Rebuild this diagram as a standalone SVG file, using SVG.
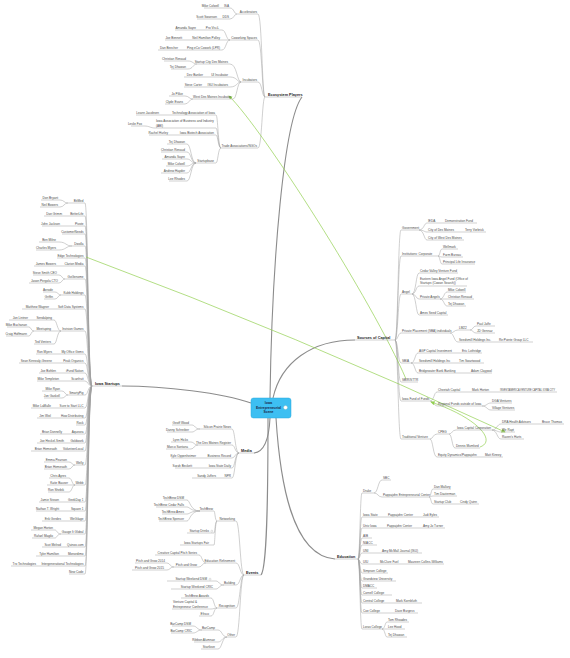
<svg xmlns="http://www.w3.org/2000/svg" width="570" height="658" viewBox="0 0 570 658">
<defs>
<style>
text{font-family:"Liberation Sans",Arial,sans-serif;font-size:3.1px;fill:#4a4a4a}
.e{text-anchor:end}
.b{font-weight:bold;font-size:3.8px;fill:#222}
.u{stroke:#a0a0a0;stroke-width:.5;fill:none}
.c{stroke:#a0a0a0;stroke-width:.5;fill:none}
.m{stroke:#8c8c8c;stroke-width:1.1;fill:none}
.g{stroke:#92d050;stroke-width:.7;fill:none;marker-end:url(#ga)}
.ct{font-weight:bold;font-size:3.4px;fill:#1b2a4a;text-anchor:middle}
</style>
<marker id="ga" viewBox="0 0 6 6" refX="5" refY="3" markerWidth="6" markerHeight="6" orient="auto"><path d="M0 0L6 3L0 6z" fill="#92d050"/></marker>
</defs>
<rect width="570" height="658" fill="#fff"/>

<g id="connectors">
<!-- main -->
<path class="m" d="M270 398C272 260 284 120 302 97"/>
<path class="m" d="M273 398C281 362 312 340 355 340"/>
<path class="m" d="M251 403C222 393 165 386 122 386"/>
<path class="m" d="M254 453C264 452 269 440 270 418"/>
<path class="m" d="M268 418C268 500 267 568 261 575"/>
<path class="m" d="M276 418C280 482 292 556 335 559"/>
<!-- ecosystem -->
<path class="c" d="M265 97C262 97 262 14 258 14M265 97C262 97 262 40 258 40M265 97C262 97 262 82 258 82M265 97C262 97 262 148 258 148"/>
<path class="c" d="M237 14C234 14 234 8 230 8M237 14C234 14 234 19 230 19"/>
<path class="c" d="M230 40C226 40 226 30 222 30M230 40H222M230 40C226 40 226 50 222 50"/>
<path class="c" d="M241 82C237 82 237 64 230 64M241 82C237 82 237 77 230 77M241 82C237 82 237 87 230 87M241 82C237 82 237 99 233 99"/>
<path class="c" d="M197 64C193 64 193 61 188 61M197 64C193 64 193 69 188 69"/>
<path class="c" d="M193 99C189 99 189 96 185 96M193 99C189 99 189 104 185 104"/>
<path class="c" d="M221 148C218 148 218 115 216 115M221 148C218 148 218 128 216 128M221 148C218 148 218 135 216 135M221 148C218 148 218 163 216 163"/>
<path class="c" d="M155 128C150 128 150 126 144 126"/>
<path class="c" d="M196 163C191 163 191 144 187 144M196 163C191 163 191 152 187 152M196 163C191 163 191 159 187 159M196 163C191 163 191 166 187 166M196 163C191 163 191 173 187 173M196 163C191 163 191 181 187 181"/>
<!-- sources -->
<path class="c" d="M395 340C398 340 398 230 401 230M395 340C398 340 398 256 401 256M395 340C398 340 398 294 401 294M395 340C398 340 398 333 401 333M395 340C398 340 398 363 401 363M395 340C398 340 398 382 401 382M395 340C398 340 398 401 401 401M395 340C398 340 398 439 401 439"/>
<path class="c" d="M419 230C424 230 424 223 427 223M419 230C424 230 424 232 427 232M419 230C424 230 424 240 427 240"/>
<path class="c" d="M438 256C440 256 440 249 442 249M438 256C440 256 440 257 442 257M438 256C440 256 440 264 442 264"/>
<path class="c" d="M412 294C416 294 416 273 419 273M412 294C416 294 416 286 419 286M412 294C416 294 416 299 419 299M412 294C416 294 416 315 419 315"/>
<path class="c" d="M440 299C444 299 444 292 447 292M440 299H447M440 299C444 299 444 306 447 306"/>
<path class="c" d="M450 333C454 333 454 330 458 330M450 333C454 333 454 342 458 342"/>
<path class="c" d="M470 330C473 330 473 326 476 326M470 330C473 330 473 333 476 333"/>
<path class="c" d="M411 363C415 363 415 353 418 353M411 363H418M411 363C415 363 415 373 418 373"/>
<path class="c" d="M430 401C434 401 434 392 437 392M430 401C434 401 434 406 437 406"/>
<path class="c" d="M482 406C487 406 487 403 491 403M482 406C487 406 487 410 491 410"/>
<path class="c" d="M430 439C433 439 433 434 437 434M430 439C433 439 433 457 437 457"/>
<path class="c" d="M449 434C452 434 452 430 456 430M449 434C452 434 452 448 455 448"/>
<path class="c" d="M492 430C497 430 497 424 501 424M492 430C497 430 497 432 501 432M492 430C497 430 497 439 501 439"/>
<!-- startups -->
<path class="c" d="M92 386C88 386 88 203 85 203M92 386C88 386 88 216 85 216M92 386C88 386 88 226 85 226M92 386C88 386 88 234 85 234M92 386C88 386 88 246 85 246M92 386C88 386 88 258 85 258M92 386C88 386 88 266 85 266M92 386C88 386 88 279 85 279M92 386C88 386 88 295 85 295M92 386C88 386 88 309 85 309M92 386C88 386 88 331 85 331M92 386C88 386 88 354 85 354M92 386C88 386 88 363 85 363M92 386C88 386 88 373 85 373M92 386C88 386 88 381 85 381M92 386C88 386 88 395 85 395M92 386C88 386 88 408 85 408M92 386C88 386 88 418 85 418M92 386C88 386 88 425 85 425M92 386C88 386 88 434 85 434M92 386C88 386 88 443 85 443M92 386C88 386 88 451 85 451M92 386C88 386 88 465 85 465M92 386C88 386 88 485 85 485M92 386C88 386 88 502 85 502M92 386C88 386 88 511 85 511M92 386C88 386 88 521 85 521M92 386C88 386 88 534 85 534M92 386C88 386 88 547 85 547M92 386C88 386 88 556 85 556M92 386C88 386 88 566 85 566M92 386C88 386 88 574 85 574"/>
<path class="c" d="M68 203C64 203 64 200 60 200M68 203C64 203 64 207 60 207"/>
<path class="c" d="M72 246C66 246 66 242 59 242M72 246C66 246 66 250 59 250"/>
<path class="c" d="M65 279C62 279 62 275 59 275M65 279C62 279 62 283 59 283"/>
<path class="c" d="M61 295C58 295 58 292 55 292M61 295C58 295 58 299 55 299"/>
<path class="c" d="M61 331C57 331 57 320 54 320M61 331H54M61 331C57 331 57 344 54 344"/>
<path class="c" d="M34 331C31 331 31 327 29 327M34 331C31 331 31 336 29 336"/>
<path class="c" d="M68 395C65 395 65 391 62 391M68 395C65 395 65 398 62 398"/>
<path class="c" d="M75 465C72 465 72 462 69 462M75 465C72 465 72 469 69 469"/>
<path class="c" d="M75 485C72 485 72 478 69 478M75 485H69M75 485C72 485 72 492 69 492"/>
<path class="c" d="M61 534C57 534 57 530 55 530M61 534C57 534 57 538 55 538"/>
<!-- media -->
<path class="c" d="M239 453C235 453 235 429 232 429M239 453C235 453 235 445 232 445M239 453C235 453 235 458 232 458M239 453C235 453 235 468 232 468M239 453C235 453 235 478 232 478"/>
<path class="c" d="M200 429C195 429 195 425 192 425M200 429C195 429 195 432 192 432"/>
<path class="c" d="M198 445C194 445 194 442 191 442M198 445C194 445 194 449 191 449"/>
<!-- events -->
<path class="c" d="M244 575C240 575 240 521 236 521M244 575C240 575 240 563 236 563M244 575C240 575 240 585 236 585M244 575C240 575 240 608 236 608M244 575C240 575 240 637 236 637"/>
<path class="c" d="M217 521C215 521 215 511 214 511M217 521C215 521 215 533 214 533M217 521C215 521 215 545 214 545"/>
<path class="c" d="M200 511C190 511 190 500 187 500M200 511C190 511 190 507 187 507M200 511C190 511 190 514 187 514M200 511C190 511 190 521 187 521"/>
<path class="c" d="M206 563C202 563 202 555 199 555M206 563C202 563 202 567 199 567"/>
<path class="c" d="M174 567C170 567 170 563 167 563M174 567C170 567 170 570 167 570"/>
<path class="c" d="M224 585C219 585 219 581 216 581M224 585C219 585 219 589 216 589"/>
<path class="c" d="M217 608C214 608 214 598 211 598M217 608C214 608 214 609 211 609M217 608C214 608 214 616 211 616"/>
<path class="c" d="M227 637C222 637 222 630 218 630M227 637C222 637 222 642 218 642M227 637C222 637 222 649 218 649"/>
<path class="c" d="M202 630C197 630 197 626 193 626M202 630C197 630 197 633 193 633"/>
<!-- education -->
<path class="c" d="M358 559C360 559 360 493 362 493M358 559C360 559 360 517 362 517M358 559C360 559 360 528 362 528M358 559C360 559 360 538 362 538M358 559C360 559 360 545 362 545M358 559C360 559 360 553 362 553M358 559C360 559 360 564 362 564M358 559C360 559 360 573 362 573M358 559C360 559 360 581 362 581M358 559C360 559 360 588 362 588M358 559C360 559 360 595 362 595M358 559C360 559 360 603 362 603M358 559C360 559 360 613 362 613M358 559C360 559 360 629 362 629"/>
<path class="c" d="M374 493C378 493 378 480 382 480M374 493C378 493 378 497 382 497"/>
<path class="c" d="M429 497C431 497 431 489 433 489M429 497C431 497 431 496 433 496M429 497C431 497 431 504 433 504"/>
<path class="c" d="M382 629C385 629 385 622 387 622M382 629H387M382 629C385 629 385 637 387 637"/>
<!-- green links -->
<path class="g" d="M406 379C372 300 262 128 229 96"/>
<path class="g" d="M86 257Q296 335 505 432"/>
<path class="g" d="M480 447C497 441 478 418 431 402"/>
</g>

<!-- ===== Ecosystem Players ===== -->
<g id="n-ecosystem"><text class="b" x="268" y="95.8">Ecosystem Players</text><path class="u" d="M265 97H302"/></g>
<g id="n-accelerators"><text class="e" x="257" y="13.1">Accelerators</text><path class="u" d="M237 14H258"/></g>
<g id="n-isa"><text class="e" x="229" y="7.1">ISA</text><path class="u" d="M221 8H230"/></g>
<g id="n-isa-1"><text class="e" x="219" y="7.1">Mike Colwell</text><path class="u" d="M204 8H221"/></g>
<g id="n-dds"><text class="e" x="229" y="18.1">DDS</text><path class="u" d="M221 19H230"/></g>
<g id="n-dds-1"><text class="e" x="217" y="18.1">Scott Swanson</text><path class="u" d="M197 19H221"/></g>
<g id="n-coworking"><text class="e" x="257" y="39.1">Coworking Spaces</text><path class="u" d="M230 40H258"/></g>
<g id="n-cw1"><text class="e" x="219" y="29.1">Pro Vis.iL</text><path class="u" d="M206 30H222"/></g>
<g id="n-cw1-1"><text class="e" x="196" y="29.1">Amanda Sayre</text><path class="u" d="M175 30H206"/></g>
<g id="n-cw2"><text class="e" x="220" y="39.1">Neil Hamilton Polley</text><path class="u" d="M191 40H222"/></g>
<g id="n-cw2-1"><text class="e" x="182" y="39.1">Joe Bennett</text><path class="u" d="M165 40H191"/></g>
<g id="n-cw3"><text class="e" x="220" y="49.1">Ping eCo Cowork (LPR)</text><path class="u" d="M186 50H222"/></g>
<g id="n-cw3-1"><text class="e" x="178" y="49.1">Dan Beecher</text><path class="u" d="M158 50H186"/></g>
<g id="n-incubators"><text class="e" x="257" y="81.1">Incubators</text><path class="u" d="M241 82H258"/></g>
<g id="n-inc1"><text class="e" x="228" y="63.1">Startup City Des Moines</text><path class="u" d="M197 64H230"/></g>
<g id="n-inc1-1"><text class="e" x="186" y="60.1">Christian Renaud</text><path class="u" d="M164 61H188"/></g>
<g id="n-inc1-2"><text class="e" x="186" y="68.1">Tej Dhawan</text><path class="u" d="M171 69H188"/></g>
<g id="n-inc2"><text class="e" x="228" y="76.1">UI Incubator</text><path class="u" d="M211 77H230"/></g>
<g id="n-inc2-1"><text class="e" x="203" y="76.1">Dev Banker</text><path class="u" d="M184 77H211"/></g>
<g id="n-inc3"><text class="e" x="228" y="86.1">ISU Incubators</text><path class="u" d="M208 87H230"/></g>
<g id="n-inc3-1"><text class="e" x="202" y="86.1">Steve Carter</text><path class="u" d="M184 87H208"/></g>
<g id="n-inc4"><text class="e" x="231" y="98.1">West Des Moines Incubator</text><path class="u" d="M193 99H233"/></g>
<g id="n-inc4-1"><text class="e" x="183" y="95.1">Jo Pilkie</text><path class="u" d="M169 96H185"/></g>
<g id="n-inc4-2"><text class="e" x="183" y="103.1">Clyde Evans</text><path class="u" d="M165 104H185"/></g>
<g id="n-trade"><text class="e" x="257" y="147.1">Trade Associations/NGOs</text><path class="u" d="M221 148H258"/></g>
<g id="n-tr1"><text class="e" x="215" y="114.1">Technology Association of Iowa</text><path class="u" d="M168 115H216"/></g>
<g id="n-tr1-1"><text class="e" x="159" y="114.1">Leann Jacobsen</text><path class="u" d="M136 115H168"/></g>
<g id="n-tr2"><text x="156" y="122.3">Iowa Association of Business and Industry</text><text x="156" y="126.6">(ABI)</text><path class="u" d="M155 128H216"/></g>
<g id="n-tr2-1"><text class="e" x="142" y="125.1">Leslie Fox</text><path class="u" d="M131 126H144"/></g>
<g id="n-tr3"><text class="e" x="214" y="134.1">Iowa Biotech Association</text><path class="u" d="M176 135H216"/></g>
<g id="n-tr3-1"><text class="e" x="168" y="134.1">Rachel Hurley</text><path class="u" d="M149 135H176"/></g>
<g id="n-tr4"><text class="e" x="214" y="162.1">Startupbase</text><path class="u" d="M196 163H216"/></g>
<g id="n-tr4-1"><text class="e" x="185" y="143.1">Tej Dhawan</text><path class="u" d="M167 144H187"/></g>
<g id="n-tr4-2"><text class="e" x="185" y="151.1">Christian Renaud</text><path class="u" d="M161 152H187"/></g>
<g id="n-tr4-3"><text class="e" x="185" y="158.1">Amanda Sayre</text><path class="u" d="M162 159H187"/></g>
<g id="n-tr4-4"><text class="e" x="185" y="165.1">Mike Colwell</text><path class="u" d="M166 166H187"/></g>
<g id="n-tr4-5"><text class="e" x="185" y="172.1">Andrew Hayder</text><path class="u" d="M161 173H187"/></g>
<g id="n-tr4-6"><text class="e" x="185" y="180.1">Lee Rhodes</text><path class="u" d="M169 181H187"/></g>

<!-- ===== Sources of Capital ===== -->
<g id="n-sources"><text class="b" x="357" y="338.8">Sources of Capital</text><path class="u" d="M355 340H395"/></g>
<g id="n-gov"><text x="402" y="229.1">Government</text><path class="u" d="M401 230H419"/></g>
<g id="n-gov1"><text x="428" y="222.1">IEDA</text><path class="u" d="M427 223H440"/></g>
<g id="n-gov1-1"><text x="445" y="222.1">Demonstration Fund</text><path class="u" d="M440 223H477"/></g>
<g id="n-gov2"><text x="428" y="231.1">City of Des Moines</text><path class="u" d="M427 232H462"/></g>
<g id="n-gov2-1"><text x="465" y="231.1">Terry Vorbrick</text><path class="u" d="M462 232H486"/></g>
<g id="n-gov3"><text x="428" y="239.1">City of West Des Moines</text><path class="u" d="M427 240H464"/></g>
<g id="n-inst"><text x="402" y="255.1">Institutions: Corporate</text><path class="u" d="M401 256H438"/></g>
<g id="n-inst1"><text x="443" y="248.1">Wellmark</text><path class="u" d="M442 249H458"/></g>
<g id="n-inst2"><text x="443" y="256.1">Farm Bureau</text><path class="u" d="M442 257H463"/></g>
<g id="n-inst3"><text x="443" y="263.1">Principal Life Insurance</text><path class="u" d="M442 264H475"/></g>
<g id="n-angel"><text x="402" y="293.1">Angel</text><path class="u" d="M401 294H412"/></g>
<g id="n-ang1"><text x="420" y="272.1">Cedar Valley Venture Fund</text><path class="u" d="M419 273H458"/></g>
<g id="n-ang2"><text x="420" y="280.1">Eastern Iowa Angel Fund (Office of</text><text x="420" y="284.4">Startups (Cowan Search))</text><path class="u" d="M419 286H467"/></g>
<g id="n-ang3"><text x="420" y="298.1">Private Angels</text><path class="u" d="M419 299H440"/></g>
<g id="n-ang3-1"><text x="448" y="291.1">Mike Colwell</text><path class="u" d="M447 292H466"/></g>
<g id="n-ang3-2"><text x="448" y="298.1">Christian Renaud</text><path class="u" d="M447 299H474"/></g>
<g id="n-ang3-3"><text x="448" y="305.1">Tej Dhawan</text><path class="u" d="M447 306H466"/></g>
<g id="n-ang4"><text x="420" y="314.1">Ames Seed Capital</text><path class="u" d="M419 315H448"/></g>
<g id="n-pp"><text x="402" y="332.1">Private Placement (SBA) individuals</text><path class="u" d="M401 333H450"/></g>
<g id="n-pp1"><text x="459" y="329.1">LM22</text><path class="u" d="M458 330H470"/></g>
<g id="n-pp1-1"><text x="477" y="325.1">Paul Jaffe</text><path class="u" d="M476 326H495"/></g>
<g id="n-pp1-2"><text x="477" y="332.1">JD Gennaz</text><path class="u" d="M476 333H495"/></g>
<g id="n-pp2"><text x="459" y="341.1">Seedsmill Holdings Inc.</text><path class="u" d="M458 342H492"/></g>
<g id="n-pp2-1"><text x="499" y="341.1">Re:Pointe Group LLC</text><path class="u" d="M492 342H533"/></g>
<g id="n-sbia"><text x="402" y="362.1">SBIA</text><path class="u" d="M401 363H411"/></g>
<g id="n-sbia1"><text x="419" y="352.1">AGP Capital Investment</text><path class="u" d="M418 353H455"/></g>
<g id="n-sbia1-1"><text x="462" y="352.1">Eric Lothridge</text><path class="u" d="M455 353H482"/></g>
<g id="n-sbia2"><text x="419" y="362.1">Seedsmill Holdings Inc</text><path class="u" d="M418 363H455"/></g>
<g id="n-sbia2-1"><text x="459" y="362.1">Tim Swartwood</text><path class="u" d="M455 363H484"/></g>
<g id="n-sbia3"><text x="419" y="372.1">Bridgewater Bank Banking</text><path class="u" d="M418 373H462"/></g>
<g id="n-sbia3-1"><text x="471" y="372.1">Adam Claypool</text><path class="u" d="M462 373H492"/></g>
<g id="n-sbir"><text x="402" y="381.1">SBIR/STTR</text><path class="u" d="M401 382H418"/></g>
<g id="n-fof"><text x="402" y="400.1">Iowa Fund of Funds</text><path class="u" d="M401 401H430"/></g>
<g id="n-fof1"><text x="438" y="391.1">Cheetah Capital</text><path class="u" d="M437 392H465"/></g>
<g id="n-fof1-1"><text x="472" y="391.1">Mark Horton</text><path class="u" d="M465 392H493"/></g>
<g id="n-fof1-2"><text x="500" y="391.1" textLength="55" lengthAdjust="spacingAndGlyphs">INVESTAMERICA VENTURE CAPITAL IOWA CITY</text><path class="u" d="M493 392H557"/></g>
<g id="n-fof2"><text x="438" y="405.1">Regional Funds outside of Iowa</text><path class="u" d="M437 406H482"/></g>
<g id="n-fof2-1"><text x="492" y="402.1">DGA Ventures</text><path class="u" d="M491 403H512"/></g>
<g id="n-fof2-2"><text x="492" y="409.1">Village Ventures</text><path class="u" d="M491 410H515"/></g>
<g id="n-tv"><text x="402" y="438.1">Traditional Venture</text><path class="u" d="M401 439H430"/></g>
<g id="n-tv1"><text x="438" y="433.1">CPEG</text><path class="u" d="M437 434H449"/></g>
<g id="n-tv1-1"><text x="457" y="429.1">Iowa Capital Corporation</text><path class="u" d="M456 430H492"/></g>
<g id="n-tv1-1-1"><text x="502" y="423.1">DRA Health Advisors</text><path class="u" d="M501 424H532"/></g>
<g id="n-tv1-1-1a"><text x="542" y="423.1">Bruce Thomas</text><path class="u" d="M532 424H564"/></g>
<g id="n-tv1-1-2"><text x="502" y="431.1">We Rapt</text><path class="u" d="M501 432H515"/></g>
<g id="n-tv1-1-3"><text x="502" y="438.1">Raven's Harts</text><path class="u" d="M501 439H524"/></g>
<g id="n-tv1-2"><text x="456" y="447.1">Dennis Mumford</text><path class="u" d="M455 448H480"/></g>
<g id="n-tv2"><text x="438" y="456.1">Equity Dynamics/Pappajohn</text><path class="u" d="M437 457H480"/></g>
<g id="n-tv2-1"><text x="485" y="456.1">Matt Kinney</text><path class="u" d="M480 457H503"/></g>

<!-- ===== Iowa Startups ===== -->
<g id="n-startups"><text class="b" x="95" y="385.2">Iowa Startups</text><path class="u" d="M92 386H122"/></g>
<g id="n-st01"><text class="e" x="83.5" y="202.1">BitMed</text><path class="u" d="M68 203H85"/></g>
<g id="n-st01a"><text class="e" x="58" y="199.1">Don Bryant</text><path class="u" d="M41 200H60"/></g>
<g id="n-st01b"><text class="e" x="58" y="206.1">Neil Bowers</text><path class="u" d="M40 207H60"/></g>
<g id="n-st02"><text class="e" x="83.5" y="215.1">BetterLife</text><path class="u" d="M67 216H85"/></g>
<g id="n-st02a"><text class="e" x="62" y="215.1">Dan Grimm</text><path class="u" d="M44 216H67"/></g>
<g id="n-st03"><text class="e" x="83.5" y="225.1">Pivote</text><path class="u" d="M74 226H85"/></g>
<g id="n-st03a"><text class="e" x="60" y="225.1">John Jackson</text><path class="u" d="M42 226H74"/></g>
<g id="n-st04"><text class="e" x="83.5" y="233.1">CustomerNeeds</text><path class="u" d="M62 234H85"/></g>
<g id="n-st05"><text class="e" x="83.5" y="245.1">Dwolla</text><path class="u" d="M72 246H85"/></g>
<g id="n-st05a"><text class="e" x="56" y="241.1">Ben Milne</text><path class="u" d="M39 242H59"/></g>
<g id="n-st05b"><text class="e" x="56" y="249.1">Charles Myers</text><path class="u" d="M36 250H59"/></g>
<g id="n-st06"><text class="e" x="83.5" y="257.1">Edge Technologies</text><path class="u" d="M57 258H85"/></g>
<g id="n-st07"><text class="e" x="83.5" y="265.1">Clarion Media</text><path class="u" d="M64 266H85"/></g>
<g id="n-st07a"><text class="e" x="56" y="265.1">James Bowers</text><path class="u" d="M34 266H64"/></g>
<g id="n-st08"><text class="e" x="83.5" y="278.1">GoGenome</text><path class="u" d="M65 279H85"/></g>
<g id="n-st08a"><text class="e" x="57" y="274.1">Steve Smith CEO</text><path class="u" d="M33 275H59"/></g>
<g id="n-st08b"><text class="e" x="58" y="282.1">Jason Pergola CTO</text><path class="u" d="M29 283H59"/></g>
<g id="n-st09"><text class="e" x="83.5" y="294.1">Kubb Holdings</text><path class="u" d="M61 295H85"/></g>
<g id="n-st09a"><text class="e" x="53" y="291.1">Aerode</text><path class="u" d="M43 292H55"/></g>
<g id="n-st09b"><text class="e" x="53" y="298.1">Griffin</text><path class="u" d="M44 299H55"/></g>
<g id="n-st10"><text class="e" x="83.5" y="308.1">Soft Data Systems</text><path class="u" d="M57 309H85"/></g>
<g id="n-st10a"><text class="e" x="49" y="308.1">Matthew Wagner</text><path class="u" d="M22 309H57"/></g>
<g id="n-st11"><text class="e" x="83.5" y="330.1">Invision Games</text><path class="u" d="M61 331H85"/></g>
<g id="n-st11a"><text class="e" x="52" y="319.1">Sendalping</text><path class="u" d="M35 320H54"/></g>
<g id="n-st11a1"><text class="e" x="28" y="319.1">Jon Lintner</text><path class="u" d="M9 320H35"/></g>
<g id="n-st11b"><text class="e" x="51" y="330.1">Meetuping</text><path class="u" d="M34 331H54"/></g>
<g id="n-st11b1"><text class="e" x="27" y="326.1">Mike Buchanan</text><path class="u" d="M7 327H29"/></g>
<g id="n-st11b2"><text class="e" x="27" y="335.1">Craig Hoffmann</text><path class="u" d="M6 336H29"/></g>
<g id="n-st11c"><text class="e" x="51" y="343.1">Ted Venters</text><path class="u" d="M34 344H54"/></g>
<g id="n-st12"><text class="e" x="83.5" y="353.1">My Office Gems</text><path class="u" d="M61 354H85"/></g>
<g id="n-st12a"><text class="e" x="52" y="353.1">Ron Myers</text><path class="u" d="M36 354H61"/></g>
<g id="n-st13"><text class="e" x="83.5" y="362.1">Peak Organics</text><path class="u" d="M64 363H85"/></g>
<g id="n-st13a"><text class="e" x="52" y="362.1">Sean Kinnealy-Greene</text><path class="u" d="M19 363H64"/></g>
<g id="n-st14"><text class="e" x="83.5" y="372.1">iFund Nation</text><path class="u" d="M66 373H85"/></g>
<g id="n-st14a"><text class="e" x="56" y="372.1">Joe Bohlen</text><path class="u" d="M39 373H66"/></g>
<g id="n-st15"><text class="e" x="83.5" y="380.1">Scanfruit</text><path class="u" d="M69 381H85"/></g>
<g id="n-st15a"><text class="e" x="59" y="380.1">Mike Templeton</text><path class="u" d="M37 381H69"/></g>
<g id="n-st16"><text class="e" x="83.5" y="394.1">SmartyPig</text><path class="u" d="M68 395H85"/></g>
<g id="n-st16a"><text class="e" x="60" y="390.1">Mike Ryan</text><path class="u" d="M42 391H62"/></g>
<g id="n-st16b"><text class="e" x="60" y="397.1">Jon Gaskell</text><path class="u" d="M44 398H62"/></g>
<g id="n-st17"><text class="e" x="83.5" y="407.1">Sure to Start LLC</text><path class="u" d="M59 408H85"/></g>
<g id="n-st17a"><text class="e" x="51" y="407.1">Mike LaMalle</text><path class="u" d="M31 408H59"/></g>
<g id="n-st18"><text class="e" x="83.5" y="417.1">How Distributing</text><path class="u" d="M59 418H85"/></g>
<g id="n-st18a"><text class="e" x="51" y="417.1">Jim Weil</text><path class="u" d="M37 418H59"/></g>
<g id="n-st19"><text class="e" x="83.5" y="424.1">Rock</text><path class="u" d="M76 425H85"/></g>
<g id="n-st20"><text class="e" x="83.5" y="433.1">Aqueora</text><path class="u" d="M71 434H85"/></g>
<g id="n-st20a"><text class="e" x="62" y="433.1">Brian Donnelly</text><path class="u" d="M40 434H71"/></g>
<g id="n-st21"><text class="e" x="83.5" y="442.1">Goldwork</text><path class="u" d="M69 443H85"/></g>
<g id="n-st21a"><text class="e" x="64" y="442.1">Joe Heckel-Smith</text><path class="u" d="M37 443H69"/></g>
<g id="n-st22"><text class="e" x="83.5" y="450.1">VolunteerLocal</text><path class="u" d="M62 451H85"/></g>
<g id="n-st22a"><text class="e" x="57" y="450.1">Brian Hemesath</text><path class="u" d="M31 451H62"/></g>
<g id="n-st23"><text class="e" x="83.5" y="464.1">Welly</text><path class="u" d="M75 465H85"/></g>
<g id="n-st23a"><text class="e" x="67" y="461.1">Emma Pearson</text><path class="u" d="M44 462H69"/></g>
<g id="n-st23b"><text class="e" x="67" y="468.1">Brian Hemesath</text><path class="u" d="M44 469H69"/></g>
<g id="n-st24"><text class="e" x="83.5" y="484.1">Webb</text><path class="u" d="M75 485H85"/></g>
<g id="n-st24a"><text class="e" x="66" y="477.1">Chris Ayres</text><path class="u" d="M49 478H69"/></g>
<g id="n-st24b"><text class="e" x="68" y="484.1">Katie Bauser</text><path class="u" d="M47 485H69"/></g>
<g id="n-st24c"><text class="e" x="64" y="491.1">Ron Shebik</text><path class="u" d="M48 492H69"/></g>
<g id="n-st25"><text class="e" x="83.5" y="501.1">GeekDay 1</text><path class="u" d="M68 502H85"/></g>
<g id="n-st25a"><text class="e" x="59" y="501.1">Jamie Sisson</text><path class="u" d="M39 502H68"/></g>
<g id="n-st26"><text class="e" x="83.5" y="510.1">Square 1</text><path class="u" d="M69 511H85"/></g>
<g id="n-st26a"><text class="e" x="59" y="510.1">Nathan T. Wright</text><path class="u" d="M36 511H69"/></g>
<g id="n-st27"><text class="e" x="83.5" y="520.1">WeGilage</text><path class="u" d="M69 521H85"/></g>
<g id="n-st27a"><text class="e" x="61" y="520.1">Erik Gerdes</text><path class="u" d="M42 521H69"/></g>
<g id="n-st28"><text class="e" x="83.5" y="533.1">Gauge It Global</text><path class="u" d="M61 534H85"/></g>
<g id="n-st28a"><text class="e" x="53" y="529.1">Megan Horton</text><path class="u" d="M31 530H55"/></g>
<g id="n-st28b"><text class="e" x="53" y="537.1">Rafael Magilo</text><path class="u" d="M32 538H55"/></g>
<g id="n-st29"><text class="e" x="83.5" y="546.1">Quinox.com</text><path class="u" d="M69 547H85"/></g>
<g id="n-st29a"><text class="e" x="61" y="546.1">Scot Melrod</text><path class="u" d="M42 547H69"/></g>
<g id="n-st30"><text class="e" x="83.5" y="555.1">Monordimo</text><path class="u" d="M67 556H85"/></g>
<g id="n-st30a"><text class="e" x="59" y="555.1">Tyler Hamilton</text><path class="u" d="M36 556H67"/></g>
<g id="n-st31"><text class="e" x="83.5" y="565.1">Intergenerational Technologies</text><path class="u" d="M42 566H85"/></g>
<g id="n-st31a"><text class="e" x="36" y="565.1">Tro Technologies</text><path class="u" d="M11 566H42"/></g>
<g id="n-st32"><text class="e" x="83.5" y="573.1">New Code</text><path class="u" d="M69 574H85"/></g>

<!-- ===== Media ===== -->
<g id="n-media"><text class="b" x="241" y="452.2">Media</text><path class="u" d="M239 453H254"/></g>
<g id="n-md1"><text class="e" x="231" y="428.1">Silicon Prairie News</text><path class="u" d="M200 429H232"/></g>
<g id="n-md1a"><text class="e" x="189" y="424.1">Geoff Wood</text><path class="u" d="M172 425H192"/></g>
<g id="n-md1b"><text class="e" x="189" y="431.1">Danny Schreiber</text><path class="u" d="M167 432H192"/></g>
<g id="n-md2"><text class="e" x="231" y="444.1">The Des Moines Register</text><path class="u" d="M198 445H232"/></g>
<g id="n-md2a"><text class="e" x="188" y="441.1">Lynn Hicks</text><path class="u" d="M171 442H191"/></g>
<g id="n-md2b"><text class="e" x="188" y="448.1">Marco Santana</text><path class="u" d="M166 449H191"/></g>
<g id="n-md3"><text class="e" x="231" y="457.1">Business Record</text><path class="u" d="M206 458H232"/></g>
<g id="n-md3a"><text class="e" x="196" y="457.1">Kyle Oppenheimer</text><path class="u" d="M171 458H206"/></g>
<g id="n-md4"><text class="e" x="231" y="467.1">Iowa State Daily</text><path class="u" d="M206 468H232"/></g>
<g id="n-md4a"><text class="e" x="192" y="467.1">Sarah Beckett</text><path class="u" d="M175 468H206"/></g>
<g id="n-md5"><text class="e" x="231" y="477.1">NPR</text><path class="u" d="M222 478H232"/></g>
<g id="n-md5a"><text class="e" x="216" y="477.1">Sandy Juffers</text><path class="u" d="M192 478H222"/></g>

<!-- ===== Events ===== -->
<g id="n-events"><text class="b" x="246" y="574">Events</text><path class="u" d="M244 575H261"/></g>
<g id="n-ev1"><text class="e" x="235" y="520.1">Networking</text><path class="u" d="M217 521H236"/></g>
<g id="n-ev1a"><text class="e" x="213" y="510.1">TechBrew</text><path class="u" d="M200 511H214"/></g>
<g id="n-ev1a1"><text class="e" x="184" y="499.1">TechBrew DSM</text><path class="u" d="M164 500H187"/></g>
<g id="n-ev1a2"><text class="e" x="184" y="506.1">TechBrew Cedar Falls</text><path class="u" d="M156 507H187"/></g>
<g id="n-ev1a3"><text class="e" x="184" y="513.1">TechBrew Ames</text><path class="u" d="M162 514H187"/></g>
<g id="n-ev1a4"><text class="e" x="184" y="520.1">TechBrew Spencer</text><path class="u" d="M159 521H187"/></g>
<g id="n-ev1b"><text class="e" x="209" y="532.1">Startup Drinks</text><circle cx="211.8" cy="531.2" r="1" fill="#fff" stroke="#999" stroke-width=".3"/><path class="u" d="M187 533H214"/></g>
<g id="n-ev1c"><text class="e" x="209" y="544.1">Iowa Startups Fair</text><path class="u" d="M180 545H214"/></g>
<g id="n-ev2"><text class="e" x="235" y="562.1">Education Refinement</text><path class="u" d="M206 563H236"/></g>
<g id="n-ev2a"><text class="e" x="197" y="554.1">Creative Capital Pitch Series</text><path class="u" d="M155 555H199"/></g>
<g id="n-ev2b"><text class="e" x="197" y="566.1">Pitch and Grow</text><path class="u" d="M174 567H199"/></g>
<g id="n-ev2b1"><text class="e" x="165" y="562.1">Pitch and Grow 2014</text><path class="u" d="M135 563H167"/></g>
<g id="n-ev2b2"><text class="e" x="164" y="569.1">Pitch and Grow 2015</text><path class="u" d="M132 570H167"/></g>
<g id="n-ev3"><text class="e" x="235" y="584.1">Building</text><path class="u" d="M224 585H236"/></g>
<g id="n-ev3a"><text class="e" x="207" y="580.1">Startup Weekend DSM</text><circle cx="210" cy="579.2" r="1" fill="#fff" stroke="#999" stroke-width=".3"/><path class="u" d="M167 581H216"/></g>
<g id="n-ev3b"><text class="e" x="213" y="588.1">Startup Weekend CRIC</text><path class="u" d="M171 589H216"/></g>
<g id="n-ev4"><text class="e" x="235" y="607.1">Recognition</text><path class="u" d="M217 608H236"/></g>
<g id="n-ev4a"><text class="e" x="209" y="597.1">TechBrew Awards</text><path class="u" d="M181 598H211"/></g>
<g id="n-ev4b"><text x="173" y="603.3">Venture Capital &amp;</text><text x="173" y="607.6">Entrepreneur Conference</text><path class="u" d="M172 609H211"/></g>
<g id="n-ev4c"><text class="e" x="209" y="615.1">Efisco</text><path class="u" d="M199 616H211"/></g>
<g id="n-ev5"><text class="e" x="235" y="636.1">Other</text><path class="u" d="M227 637H236"/></g>
<g id="n-ev5a"><text class="e" x="215" y="629.1">BarCamp</text><path class="u" d="M202 630H218"/></g>
<g id="n-ev5a1"><text class="e" x="191" y="625.1">BarCamp DSM</text><path class="u" d="M172 626H193"/></g>
<g id="n-ev5a2"><text class="e" x="192" y="632.1">BarCamp CRIC</text><path class="u" d="M171 633H193"/></g>
<g id="n-ev5b"><text class="e" x="215" y="641.1">Ribbon Alumnae</text><path class="u" d="M194 642H218"/></g>
<g id="n-ev5c"><text class="e" x="215" y="648.1">Startlove</text><path class="u" d="M201 649H218"/></g>

<!-- ===== Education ===== -->
<g id="n-education"><text class="b" x="337" y="558">Education</text><path class="u" d="M335 559H358"/></g>
<g id="n-ed1"><text x="363" y="492.1">Drake</text><path class="u" d="M362 493H374"/></g>
<g id="n-ed1a"><text x="383" y="479.1">SBC</text><path class="u" d="M382 480H391"/></g>
<g id="n-ed1b"><text x="383" y="496.1">Pappajohn Entrepreneurial Center</text><path class="u" d="M382 497H429"/></g>
<g id="n-ed1b1"><text x="434" y="488.1">Dan Mallory</text><path class="u" d="M433 489H451"/></g>
<g id="n-ed1b2"><text x="434" y="495.1">Tim Dauterman</text><path class="u" d="M433 496H457"/></g>
<g id="n-ed1b3"><text x="434" y="503.1">Startup Club</text><path class="u" d="M433 504H456"/></g>
<g id="n-ed1b3a"><text x="460" y="503.1">Cindy Quinn</text><path class="u" d="M456 504H479"/></g>
<g id="n-ed2"><text x="363" y="516.1">Iowa State</text><path class="u" d="M362 517H381"/></g>
<g id="n-ed2a"><text x="388" y="516.1">Pappajohn Center</text><path class="u" d="M381 517H414"/></g>
<g id="n-ed2b"><text x="423" y="516.1">Judi Eyles</text><path class="u" d="M414 517H439"/></g>
<g id="n-ed3"><text x="363" y="527.1">Univ Iowa</text><path class="u" d="M362 528H379"/></g>
<g id="n-ed3a"><text x="387" y="527.1">Pappajohn Center</text><path class="u" d="M379 528H414"/></g>
<g id="n-ed3b"><text x="423" y="527.1">Amy Jo Turner</text><path class="u" d="M414 528H445"/></g>
<g id="n-ed4"><text x="363" y="537.1">AIB</text><path class="u" d="M362 538H372"/></g>
<g id="n-ed5"><text x="363" y="544.1">NIACC</text><path class="u" d="M362 545H377"/></g>
<g id="n-ed6"><text x="363" y="552.1">UNI</text><path class="u" d="M362 553H374"/></g>
<g id="n-ed6a"><text x="382" y="552.1">Amy McMall Journal (ISU)</text><path class="u" d="M374 553H422"/></g>
<g id="n-ed7"><text x="363" y="563.1">UIU</text><path class="u" d="M362 564H372"/></g>
<g id="n-ed7a"><text x="380" y="563.1">McClure Fuel</text><path class="u" d="M372 564H399"/></g>
<g id="n-ed7b"><text x="408" y="563.1">Maureen Collins-Williams</text><path class="u" d="M399 564H444"/></g>
<g id="n-ed8"><text x="363" y="572.1">Simpson College</text><path class="u" d="M362 573H388"/></g>
<g id="n-ed9"><text x="363" y="580.1">Grandview University</text><path class="u" d="M362 581H396"/></g>
<g id="n-ed10"><text x="363" y="587.1">DMACC</text><path class="u" d="M362 588H377"/></g>
<g id="n-ed11"><text x="363" y="594.1">Cornell College</text><path class="u" d="M362 595H392"/></g>
<g id="n-ed12"><text x="363" y="602.1">Central College</text><path class="u" d="M362 603H392"/></g>
<g id="n-ed12a"><text x="396" y="602.1">Mark Kornbluth</text><path class="u" d="M392 603H422"/></g>
<g id="n-ed13"><text x="363" y="612.1">Coe College</text><path class="u" d="M362 613H388"/></g>
<g id="n-ed13a"><text x="395" y="612.1">Dave Burgess</text><path class="u" d="M388 613H418"/></g>
<g id="n-ed14"><text x="363" y="628.1">Loras College</text><path class="u" d="M362 629H382"/></g>
<g id="n-ed14a"><text x="388" y="621.1">Tom Rhoades</text><path class="u" d="M387 622H409"/></g>
<g id="n-ed14b"><text x="388" y="628.1">Lee Hood</text><path class="u" d="M387 629H405"/></g>
<g id="n-ed14c"><text x="388" y="636.1">Tej Dhawan</text><path class="u" d="M387 637H407"/></g>

<!-- ===== Central topic ===== -->
<g id="n-center">
<rect x="251" y="398" width="40" height="20" rx="2.5" fill="#3dbff2" stroke="#2aa9dc" stroke-width=".5"/>
<text class="ct" x="268.5" y="404.3">Iowa</text>
<text class="ct" x="268.5" y="408.6">Entrepreneurial</text>
<text class="ct" x="268.5" y="412.9">Scene</text>
<circle cx="285.5" cy="407.6" r="2" fill="#fff" stroke="#7aa" stroke-width=".3"/>
</g>
</svg>
